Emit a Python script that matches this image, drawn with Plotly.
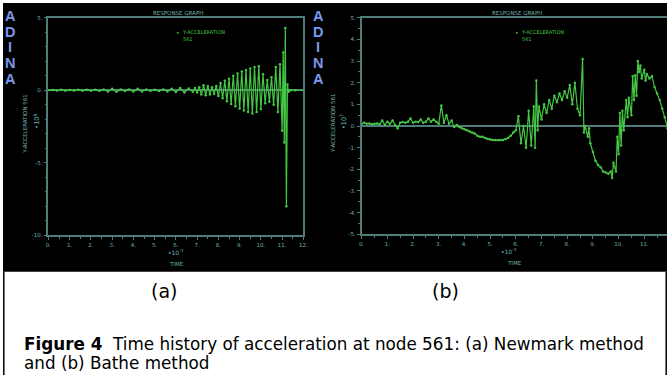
import plotly.graph_objects as go

# ---------------- data ----------------
X_TICKS = [0, 1, 2, 3, 4, 5, 6, 7, 8, 9, 10, 11, 12]
X_TICK_TEXT = ["0.", "1.", "2.", "3.", "4.", "5.", "6.", "7.", "8.", "9.", "10.", "11.", "12."]
Y_TICKS_A = [-10, -5, 0, 5]
Y_TICK_TEXT_A = ["-10.", "-5.", "0.", "5."]
Y_TICKS_B = [-5, -4, -3, -2, -1, 0, 1, 2, 3, 4, 5]
Y_TICK_TEXT_B = ["-5.", "-4.", "-3.", "-2.", "-1.", "0.", "1.", "2.", "3.", "4.", "5."]

# (a) Newmark method, time x10^-3, acceleration x10^9
T_A = [0.0, 0.2, 0.4, 0.6, 0.8, 1.0, 1.2, 1.4, 1.6, 1.8, 2.0, 2.2, 2.4, 2.6, 2.8,
       3.0, 3.2, 3.4, 3.6, 3.8, 4.0, 4.2, 4.4, 4.6, 4.8, 5.0, 5.2, 5.4, 5.6, 5.8,
       6.0, 6.2, 6.4, 6.6, 6.8,
       6.9, 7.0, 7.1, 7.2, 7.3, 7.4, 7.5, 7.6, 7.7, 7.8, 7.9, 8.0, 8.1, 8.2, 8.3,
       8.4, 8.5, 8.6, 8.7, 8.8, 8.9, 9.0, 9.1, 9.2, 9.3, 9.4, 9.5, 9.6, 9.7, 9.8,
       9.9, 10.0, 10.1, 10.2, 10.3, 10.4, 10.5, 10.6, 10.7, 10.8, 10.9, 11.0,
       11.05, 11.1, 11.15, 11.2, 11.25, 11.3, 11.4, 11.6, 12.0]
ACC_A = [0.0, 0.02, -0.02, 0.03, -0.03, 0.02, -0.02, 0.03, -0.03, 0.03, -0.03, 0.04, -0.04, 0.05, -0.08,
         0.1, -0.1, 0.06, -0.05, 0.06, -0.09, 0.1, -0.08, 0.05, -0.04, 0.04, -0.05, 0.06, -0.08, 0.1,
         -0.12, 0.15, -0.15, 0.12, -0.1,
         0.15, -0.15, 0.2, -0.3, 0.35, -0.35, 0.3, -0.3, 0.2, -0.25, 0.3, -0.4, 0.5, -0.55, 0.65,
         -0.75, 0.8, -0.95, 1.0, -1.1, 1.15, -1.25, 1.3, -1.4, 1.4, -1.5, 1.5, -1.6, 1.6, -1.5,
         1.65, -1.3, 1.1, -0.9, 0.7, -0.8, 0.9, -1.0, 1.6, -1.5, 1.8, -2.8,
         2.6, -3.6, 4.3, -8.0, 0.4, -0.1, 0.0, 0.0, 0.0]

# (b) Bathe method, time x10^-3, acceleration x10^7
T_B = [0.0, 0.1, 0.2, 0.3, 0.4, 0.5, 0.6, 0.7, 0.8, 0.9, 1.0, 1.1, 1.2, 1.3, 1.4,
       1.5, 1.6, 1.7, 1.8, 1.9, 2.0, 2.1, 2.2, 2.3, 2.4, 2.5, 2.6, 2.7, 2.8, 2.9,
       3.0, 3.1, 3.2, 3.3, 3.4, 3.5, 3.6, 3.7, 3.8, 3.9, 4.0, 4.1, 4.2, 4.3, 4.4,
       4.5, 4.6, 4.7, 4.8, 4.9, 5.0, 5.1, 5.2, 5.3, 5.4, 5.5, 5.6, 5.7, 5.8, 5.9,
       6.0, 6.1, 6.2, 6.3, 6.4, 6.5, 6.6, 6.7, 6.75, 6.8, 6.85, 6.9, 7.0, 7.1, 7.2,
       7.3, 7.4, 7.5, 7.6, 7.7, 7.8, 7.9, 8.0, 8.1, 8.2, 8.3, 8.4, 8.5, 8.6, 8.65,
       8.7, 8.8, 8.85, 8.9, 9.0, 9.1, 9.2, 9.3, 9.4, 9.5, 9.6, 9.7, 9.75, 9.8, 9.9,
       9.95, 10.0, 10.05, 10.1, 10.15, 10.2, 10.3, 10.35, 10.4, 10.5, 10.55, 10.6,
       10.65, 10.7, 10.75, 10.8, 10.85, 10.9, 11.0, 11.05, 11.1, 11.2, 11.3, 11.4,
       11.5, 11.6, 11.7, 11.8, 11.9, 12.0]
ACC_B = [0.1, 0.15, 0.1, 0.12, 0.08, 0.1, 0.12, 0.08, 0.25, 0.05, 0.2, 0.1, 0.25, 0.05, -0.1,
         0.15, 0.18, 0.15, 0.2, 0.35, 0.15, 0.2, 0.18, 0.3, 0.15, 0.2, 0.35, 0.2, 0.3, 0.2,
         0.1, 0.95, 0.15, 0.5, 0.1, 0.25, -0.05, 0.05, -0.05, -0.1, -0.15, -0.2, -0.25, -0.3, -0.35,
         -0.45, -0.5, -0.5, -0.55, -0.6, -0.62, -0.65, -0.65, -0.66, -0.65, -0.65, -0.6, -0.55, -0.45, -0.3,
         -0.2, 0.45, -0.8, 0.0, -1.0, 0.7, -0.9, 0.9, -1.0, 2.1, -0.2, 0.9, 0.3, 1.0, 0.6,
         1.2, 0.8, 1.4, 1.1, 1.5, 1.2, 1.6, 1.3, 1.9, 1.0, 2.0, 0.8, 0.5, 3.1, -0.3,
         0.0, -0.5, -0.1, -0.8, -1.2, -1.6, -1.8, -1.9, -2.1, -2.15, -2.2, -2.1, -2.4, -1.7, -2.1,
         -0.5, -1.3, 0.6, -0.9, 0.7, -0.2, 1.2, 0.4, 1.3, 0.5, 2.3, 1.2,
         2.35, 1.4, 3.0, 2.5, 2.8, 2.2, 2.6, 2.1, 2.4, 2.2, 2.3, 1.8,
         1.5, 1.2, 0.8, 0.4, -0.1, -0.5]

# ---------------- layout helpers ----------------
W, H = 672, 378


def px(x):
    return x / W


def py(y):
    return 1 - y / H


AX = "#4f7b78"
TXT = "#6fb5b2"
GREEN = "#44c844"
ADINA = "#7b98ee"
SMALL = dict(family="DejaVu Sans", size=5.5, color=TXT)

fig = go.Figure()
fig.add_trace(go.Scatter(x=T_A, y=ACC_A, mode="lines+markers", xaxis="x", yaxis="y",
                         line=dict(color=GREEN, width=1.2), marker=dict(size=2.5, color=GREEN),
                         showlegend=False, hoverinfo="skip"))
fig.add_trace(go.Scatter(x=T_B, y=ACC_B, mode="lines+markers", xaxis="x2", yaxis="y2",
                         line=dict(color=GREEN, width=1.2), marker=dict(size=2.5, color=GREEN),
                         showlegend=False, hoverinfo="skip"))


def xax(domain, rng, mirror):
    return dict(domain=domain, range=rng, tickvals=X_TICKS, ticktext=X_TICK_TEXT,
                showgrid=False, zeroline=False, showline=True, linecolor=AX, linewidth=1.5,
                mirror=mirror, ticks="outside", ticklen=3, tickcolor=AX, tickwidth=1,
                tickfont=SMALL, minor=dict(dtick=0.5, ticks="outside", ticklen=1.5, tickcolor=AX),
                fixedrange=True)


def yax(domain, rng, tv, tt, minor_dt, anchor, mirror):
    return dict(domain=domain, range=rng, tickvals=tv, ticktext=tt, anchor=anchor,
                showgrid=False, zeroline=True, zerolinecolor=AX, zerolinewidth=1.5,
                showline=True, linecolor=AX, linewidth=1.5, mirror=mirror,
                ticks="outside", ticklen=3, tickcolor=AX, tickwidth=1, tickfont=SMALL,
                minor=dict(dtick=minor_dt, ticks="outside", ticklen=1.5, tickcolor=AX),
                fixedrange=True)


fig.update_layout(
    width=W, height=H, margin=dict(l=0, r=0, t=0, b=0),
    paper_bgcolor="white", plot_bgcolor="black",
    xaxis=dict(**xax([px(46), px(304)], [0, 12], True), anchor="y"),
    yaxis=yax([py(236), py(15)], [-10, 5], Y_TICKS_A, Y_TICK_TEXT_A, 1, "x", True),
    xaxis2=dict(**xax([px(363), 1.0], [0, 11.885], True), anchor="y2"),
    yaxis2=yax([py(235), py(15)], [-5, 5], Y_TICKS_B, Y_TICK_TEXT_B, 0.5, "x2", False),
)

shapes = [
    dict(type="rect", xref="paper", yref="paper", x0=0, x1=1, y0=py(273), y1=1,
         fillcolor="black", line=dict(width=0), layer="below"),
    dict(type="line", xref="paper", yref="paper", x0=px(0.8), x1=px(0.8), y0=0, y1=py(273),
         line=dict(color="black", width=1.5)),
    dict(type="line", xref="paper", yref="paper", x0=px(671.2), x1=px(671.2), y0=0, y1=py(273),
         line=dict(color="black", width=1.5)),
]
fig.update_layout(shapes=shapes)

ann = []


def add(x, y, text, font, **kw):
    kw.setdefault("xanchor", "center")
    kw.setdefault("yanchor", "middle")
    ann.append(dict(xref="paper", yref="paper", x=px(x), y=py(y), text=text,
                    showarrow=False, font=font, borderpad=0, **kw))


# titles and legends
for cx, lx in [(177, 177), (520, 520)]:
    add(cx, 10, "RESPONSE GRAPH", SMALL)
    add(lx, 30, "•", dict(family="DejaVu Sans", size=6, color=GREEN))
    add(lx + 3, 33, "Y-ACCELERATION<br>561", dict(family="DejaVu Sans", size=5, color=GREEN),
        xanchor="left", align="left")

# axis titles
add(22, 123, "Y-ACCELERATION 561", SMALL, textangle=-90)
add(34, 120, "•10<sup>9</sup>", dict(family="DejaVu Sans", size=6.5, color=TXT), textangle=-90)
add(334, 122, "Y-ACCELERATION 561", SMALL, textangle=-90)
add(344, 120, "•10<sup>7</sup>", dict(family="DejaVu Sans", size=6.5, color=TXT), textangle=-90)
add(175, 253, "•10<sup>-3</sup>", dict(family="DejaVu Sans", size=6, color=TXT))
add(176, 265, "TIME", SMALL)
add(512, 252, "•10<sup>-3</sup>", dict(family="DejaVu Sans", size=6, color=TXT))
add(518, 264, "TIME", SMALL)

# ADINA logos
for ax_ in (7.5, 319):
    for i, ch in enumerate("ADINA"):
        add(ax_, 13 + i * 16, "<b>" + ch + "</b>",
            dict(family="Liberation Sans Narrow, Liberation Sans", size=14.5, color=ADINA))

# sub-labels and caption
add(163, 293, "(a)", dict(family="DejaVu Sans", size=19, color="black"))
add(448, 293, "(b)", dict(family="DejaVu Sans", size=19, color="black"))
add(20, 347, "<b>Figure 4</b>  Time history of acceleration at node 561: (a) Newmark method",
    dict(family="DejaVu Sans", size=16.8, color="black"), xanchor="left")
add(20, 366, "and (b) Bathe method", dict(family="DejaVu Sans", size=16.8, color="black"),
    xanchor="left")

fig.update_layout(annotations=ann)
fig.write_html("out.html", config={"displayModeBar": False},
               post_script="document.body.style.margin='0px';document.body.style.overflow='hidden';")
